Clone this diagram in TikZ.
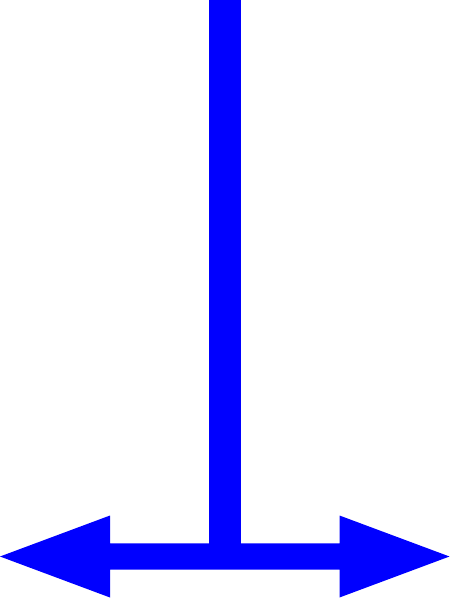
\documentclass[tikz,border=0pt]{standalone}
\tikzset{every picture/.style={line width=0.75pt}}
\tikzset{barfill/.style={fill={rgb, 255:red, 0; green, 0; blue, 255 }, draw=none}}

\begin{document}
\begin{tikzpicture}[x=1pt,y=1pt,yscale=-1,xscale=1]
    \useasboundingbox (0,0) rectangle (452,600);

    %Shape: Rectangle [id:stem]
    \fill [barfill]  (208.5,0) -- (241,0) -- (241,556) -- (208.5,556) -- cycle ;
    %Shape: Double Arrow [id:crossbar]
    \fill [barfill]  (0,556.5) -- (110,515.5) -- (110,543.3) -- (339.5,543.3) -- (339.5,515.5) -- (449.5,556.5) -- (339.5,597.5) -- (339.5,569.5) -- (110,569.5) -- (110,597.5) -- cycle ;

\end{tikzpicture}
\end{document}
